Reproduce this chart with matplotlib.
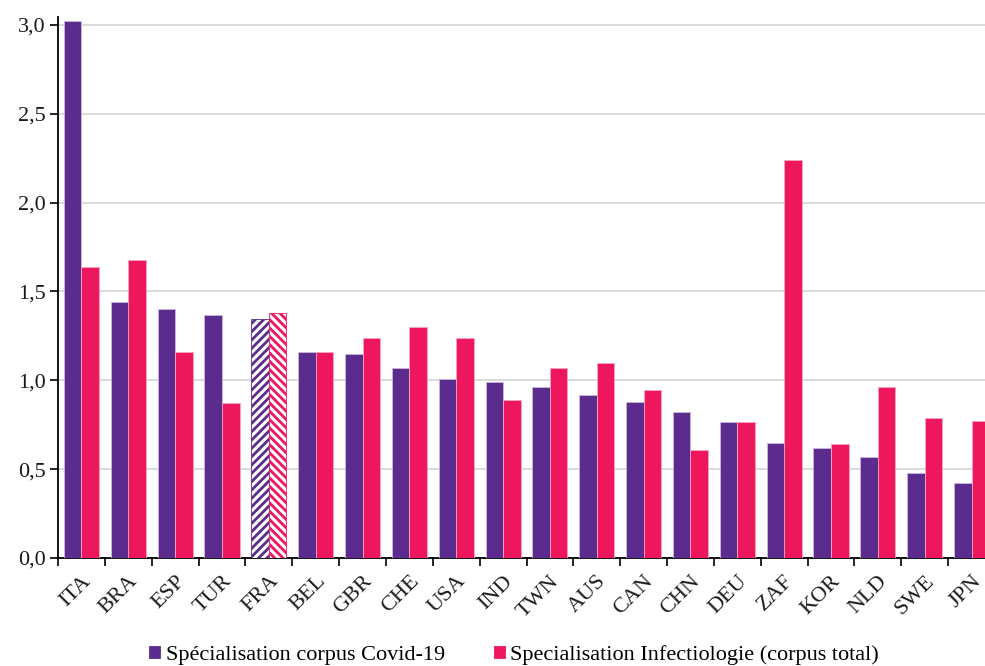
import numpy as np
import matplotlib
matplotlib.use('Agg')
import matplotlib.pyplot as plt
from matplotlib.ticker import FuncFormatter, FixedLocator

### DATA ###
pays = ['ITA', 'BRA', 'ESP', 'TUR', 'FRA', 'BEL', 'GBR', 'CHE', 'USA', 'IND',
        'TWN', 'AUS', 'CAN', 'CHN', 'DEU', 'ZAF', 'KOR', 'NLD', 'SWE', 'JPN']
covid = [3.02, 1.44, 1.40, 1.37, 1.345, 1.16, 1.15, 1.07, 1.01, 0.99,
         0.96, 0.92, 0.88, 0.82, 0.765, 0.65, 0.62, 0.57, 0.48, 0.42]
infectio = [1.64, 1.68, 1.16, 0.87, 1.38, 1.16, 1.24, 1.30, 1.24, 0.89,
            1.07, 1.10, 0.945, 0.61, 0.765, 2.24, 0.64, 0.96, 0.79, 0.77]
yticks = [0.0, 0.5, 1.0, 1.5, 2.0, 2.5, 3.0]
lab_covid = 'Spécialisation corpus Covid-19'
lab_infectio = 'Specialisation Infectiologie (corpus total)'

violet = '#5b2c8e'
rose = '#ee165d'

plt.rcParams['font.family'] = ['Liberation Serif', 'DejaVu Serif']
plt.rcParams['hatch.linewidth'] = 2.0

fig = plt.figure(figsize=(9.85, 6.66), dpi=100)
ax = fig.add_axes([58/985, 1-558/666, 1-58/985, (558-17)/666])

x = np.arange(len(pays))
w = 0.375
b1 = ax.bar(x - w/2, covid, w, color=violet, edgecolor='#c9b8dc', linewidth=0.6, label=lab_covid, zorder=3)
b2 = ax.bar(x + w/2, infectio, w, color=rose, edgecolor='#f7a6c0', linewidth=0.6, label=lab_infectio, zorder=3)

# FRA hachuree
i = pays.index('FRA')
b1[i].set_facecolor('white'); b1[i].set_edgecolor(violet); b1[i].set_hatch('////')
b2[i].set_facecolor('white'); b2[i].set_edgecolor(rose); b2[i].set_hatch('\\\\\\\\')

ax.set_ylim(0, 3.045)
ax.set_xlim(-0.5, 19.5 - 10/46.8)
ax.set_yticks(yticks)
ax.yaxis.set_major_formatter(FuncFormatter(lambda v, p: f'{v:.1f}'.replace('.', ',')))
ax.grid(axis='y', color='#d4d4d4', linewidth=1.2, zorder=0)

ax.set_xticks(x)
ax.set_xticklabels(pays, rotation=45, ha='right', va='top', rotation_mode='anchor')
ax.xaxis.set_minor_locator(FixedLocator(np.arange(-0.5, 20, 1)))
ax.tick_params(axis='x', which='major', length=0, pad=10, labelsize=16, labelcolor='#1a1a1a')
ax.tick_params(axis='x', which='minor', length=6, width=1.2, direction='out')
ax.tick_params(axis='y', length=6, width=1.2, labelsize=16, labelcolor='#1a1a1a', pad=3)

for s in ['top', 'right']:
    ax.spines[s].set_visible(False)
ax.spines['left'].set_linewidth(1.3)
ax.spines['bottom'].set_linewidth(1.3)

fig.legend(handles=[b1[0], b2[0]], labels=[lab_covid, lab_infectio], loc='center',
           bbox_to_anchor=(0.522, 1-655/666), ncol=2, frameon=False, fontsize=16,
           handlelength=0.5, handleheight=0.5, handletextpad=0.25, columnspacing=2.2)
# legend patches solid colors
leg = fig.legends[0]
for h, c in zip(leg.legend_handles, [violet, rose]):
    h.set_facecolor(c); h.set_edgecolor(c); h.set_hatch(None)

fig.savefig('out.png', dpi=100)
